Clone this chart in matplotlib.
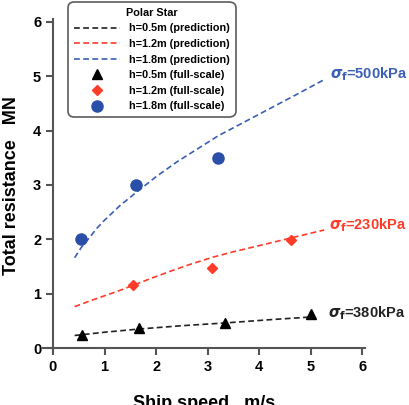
import numpy as np
import matplotlib
matplotlib.use('Agg')
import matplotlib.pyplot as plt

plt.rcParams['font.family'] = ['Liberation Sans', 'DejaVu Sans']
plt.rcParams['font.weight'] = 'bold'
plt.rcParams['mathtext.fontset'] = 'dejavusans'

# prediction curves
x_pred_05 = [0.42, 1.0, 1.68, 2.5, 3.33, 4.2, 5.0]
y_pred_05 = [0.23, 0.29, 0.35, 0.41, 0.46, 0.52, 0.57]
x_pred_12 = [0.42, 0.7, 1.0, 1.3, 1.55, 1.9, 2.3, 2.7, 3.1, 3.5, 3.9, 4.25, 4.6, 4.95, 5.26]
y_pred_12 = [0.76, 0.86, 0.96, 1.06, 1.15, 1.28, 1.42, 1.55, 1.67, 1.77, 1.86, 1.94, 2.02, 2.1, 2.17]
x_pred_18 = [0.42, 0.55, 0.7, 0.85, 1.0, 1.3, 1.6, 2.0, 2.4, 2.8, 3.2, 3.7, 4.2, 4.7, 5.25]
y_pred_18 = [1.66, 1.85, 2.02, 2.2, 2.35, 2.62, 2.85, 3.15, 3.42, 3.66, 3.9, 4.15, 4.4, 4.65, 4.93]

# full-scale measurements
x_fs_05 = [0.56, 1.67, 3.34, 5.0]
y_fs_05 = [0.24, 0.36, 0.46, 0.62]
x_fs_12 = [1.55, 3.08, 4.61]
y_fs_12 = [1.15, 1.48, 1.99]
x_fs_18 = [0.54, 1.61, 3.2]
y_fs_18 = [2.0, 3.0, 3.49]

black = '#222222'
red = '#ff3b2a'
blue = '#3a5fb5'

fig = plt.figure(figsize=(4.1, 4.05), dpi=100)
ax = fig.add_axes([0.104, 0.130, 0.786, 0.823])

dash = (3.5, 2.0)
ax.plot(x_pred_05, y_pred_05, color=black, lw=1.2, dashes=dash, label='h=0.5m (prediction)')
ax.plot(x_pred_12, y_pred_12, color=red, lw=1.2, dashes=dash, label='h=1.2m (prediction)')
ax.plot(x_pred_18, y_pred_18, color=blue, lw=1.2, dashes=dash, label='h=1.8m (prediction)')
ax.plot(x_fs_05, y_fs_05, '^', color='black', ms=7, ls='none', label='h=0.5m (full-scale)')
ax.plot(x_fs_12, y_fs_12, 'D', color=red, ms=5.5, ls='none', label='h=1.2m (full-scale)')
ax.plot(x_fs_18, y_fs_18, 'o', color='#2a4fa8', ms=8, ls='none', label='h=1.8m (full-scale)')

sig = r'$\sigma_\mathrm{f}$'
ax.text(5.37, 5.04, sig + '=500kPa', color=blue, fontsize=10.5, fontweight='bold', va='center')
ax.text(5.35, 2.26, sig + '=230kPa', color=red, fontsize=10.5, fontweight='bold', va='center')
ax.text(5.33, 0.64, sig + '=380kPa', color='#222222', fontsize=10.5, fontweight='bold', va='center')

ax.set_xlim(-0.2, 6.05)
ax.set_ylim(-0.08, 6.05)
ax.spines['top'].set_visible(False)
ax.spines['right'].set_visible(False)
ax.spines['bottom'].set_position(('data', 0))
ax.spines['left'].set_position(('data', 0))
for s in ['left', 'bottom']:
    ax.spines[s].set_color('#555555')
    ax.spines[s].set_linewidth(1.5)
ax.set_xticks(range(0, 7))
ax.set_yticks(range(0, 7))
ax.tick_params(direction='out', length=5, width=1.5, color='#555555', labelsize=10.5)

ax.set_xlabel('Ship speed   m/s', fontsize=13, fontweight='bold', labelpad=15)
ax.set_ylabel('Total resistance   MN', fontsize=13, fontweight='bold', labelpad=9)

leg = ax.legend(title='Polar Star', loc='upper left', bbox_to_anchor=(0.065, 1.065),
                fontsize=7.8, title_fontproperties={'weight': 'bold', 'size': 7.8},
                frameon=True, fancybox=True, handlelength=4.3, labelspacing=0.52,
                borderpad=0.45, handletextpad=0.8)
leg.get_frame().set_edgecolor('#333333')
leg.get_frame().set_linewidth(1.2)
leg.get_frame().set_boxstyle('round,pad=0.1,rounding_size=0.6')

fig.savefig('out.png', dpi=100)
